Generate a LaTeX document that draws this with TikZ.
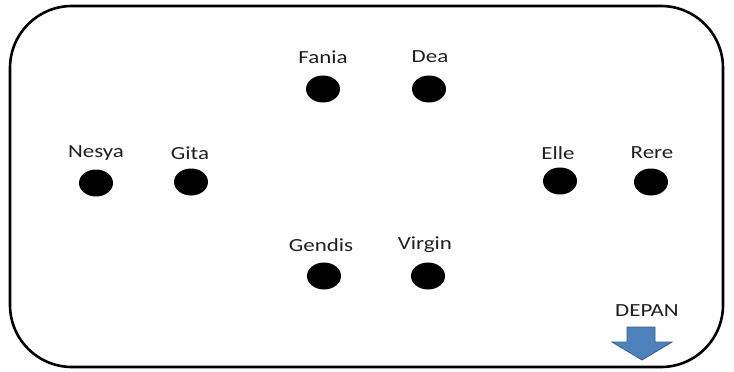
\documentclass[tikz,border=0pt]{standalone}
\usepackage{fontspec}
\setmainfont{Carlito}
\begin{document}
\begin{tikzpicture}[x=1pt,y=-1pt,
  lbl/.style={font=\fontsize{18.5}{20}\selectfont, text=black!88, xscale=1.24, transform shape, inner sep=0pt},
]
\useasboundingbox (0,0) rectangle (734,372);
\draw[line width=2.6pt, rounded corners=62pt] (10,6) rectangle (723,367);
\foreach \n/\t/\tx/\ty/\dx/\dy in {fa/Fania/323/57/323/89, de/Dea/430/57/429/89,
  ne/Nesya/96/153/96/183, gi/Gita/190/153/191/182, el/Elle/558/153/560/181,
  re/Rere/652/153/651/182, ge/Gendis/321/245/324/276, vi/Virgin/425/245/428/276}{
  \node[lbl] (t\n) at (\tx,\ty) {\t};
  \coordinate (d\n) at (\dx,\dy);
  \fill (d\n) ellipse [x radius=17, y radius=13.5];
}
\node[lbl] (depan) at (647,311) {DEPAN};
\draw[fill={rgb,255:red,79;green,129;blue,189}, draw={rgb,255:red,56;green,93;blue,138}, line width=0.8pt]
  (627,327) -- (655,327) -- (655,342) -- (672,342) -- (642,360) -- (612,342) -- (627,342) -- cycle;
\end{tikzpicture}
\end{document}
